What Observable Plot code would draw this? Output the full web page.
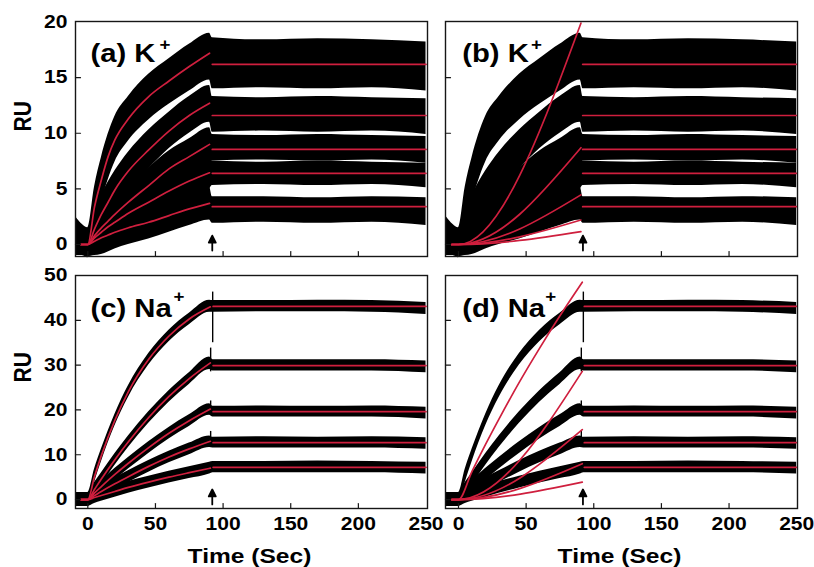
<!DOCTYPE html>
<html><head><meta charset="utf-8">
<script src="https://cdn.jsdelivr.net/npm/d3@7"></script>
<script src="https://cdn.jsdelivr.net/npm/@observablehq/plot@0.6"></script>
<style>
body{margin:0;background:#fff;}
#chart{position:relative;width:814px;height:567px;overflow:hidden;background:#fff;}
#chart svg{position:absolute;overflow:visible;}
</style></head><body><div id="chart"></div>
<script>
// ---------- data ----------
// K+ sensorgrams (panels a and b share the same traces): noise envelopes
const kTimes = [-9, -4, 0, 5, 10, 20, 30, 45, 60, 75, 90, 92, 130, 170, 210, 250];
const kLo = [
  [-1.0,-1.0,-1.2, 1.5, 3.8, 7.4, 9.3,11.2,12.6,13.8,14.8,14.0,14.1,14.0,14.1,13.8],
  [-1.0,-1.0,-1.0, 0.0, 1.0, 3.2, 4.9, 6.8, 8.6,10.0,11.0,10.1,10.2,10.1,10.2, 9.9],
  [-1.0,-1.0,-1.0,-0.7, 0.0, 1.2, 2.3, 3.8, 5.2, 6.3, 7.4, 7.5, 7.6, 7.5, 7.6, 7.3],
  [-1.0,-1.0,-1.0,-0.9,-0.4, 0.5, 1.3, 2.3, 3.3, 4.2, 5.0, 5.3, 5.4, 5.3, 5.4, 5.1],
  [-1.0,-1.0,-1.1,-1.0,-0.9,-0.4, 0.0, 0.5, 1.1, 1.7, 2.2, 1.9, 2.0, 1.9, 2.0, 1.7]];
const kHi = [
  [2.5, 1.8, 1.5, 5.2, 7.8,11.5,13.3,15.3,16.7,18.0,19.0,18.6,18.4,18.5,18.4,18.2],
  [1.5, 1.3, 1.2, 3.0, 4.4, 6.6, 8.3,10.3,11.9,13.3,14.3,13.3,13.2,13.3,13.2,13.1],
  [1.2, 1.2, 1.0, 2.4, 3.0, 4.3, 5.4, 6.9, 8.4, 9.5,10.5, 9.9, 9.8, 9.9, 9.8, 9.7],
  [1.2, 1.2, 1.0, 2.1, 2.6, 3.5, 4.3, 5.3, 6.3, 7.2, 8.0, 7.5, 7.4, 7.5, 7.4, 7.3],
  [1.2, 1.2, 1.0, 1.8, 2.1, 2.6, 3.0, 3.5, 4.1, 4.7, 5.2, 4.3, 4.3, 4.2, 4.3, 4.2]];

// Na+ sensorgrams (panels c and d share the same traces)
const naTimes = [-9, -4, 0, 5, 10, 20, 30, 45, 60, 75, 90, 92.5, 130, 170, 210, 250];
const naLo = [
  [-1.5,-1.5,-1.5, 3.8, 8.4,16.4,22.8,30.0,35.2,39.0,41.8,41.8,41.9,41.9,41.8,41.3],
  [-1.5,-1.5,-1.5, 1.0, 3.3, 7.6,11.6,17.0,21.7,25.7,29.0,28.7,28.7,28.7,28.7,28.3],
  [-1.5,-1.5,-1.5, 0.2, 1.6, 4.3, 6.8,10.3,13.5,16.3,18.8,18.4,18.4,18.4,18.4,18.0],
  [-1.5,-1.5,-1.5,-0.4, 0.5, 2.2, 3.8, 6.1, 8.2,10.0,11.6,11.5,11.5,11.5,11.5,11.2],
  [-1.5,-1.5,-1.5,-0.9,-0.4, 0.5, 1.4, 2.6, 3.7, 4.7, 5.7, 6.0, 6.0, 6.0, 6.0, 5.7]];
const naHi = [
  [1.5,1.5,1.5, 6.8,11.2,19.0,25.4,32.6,37.8,41.6,44.5,44.4,44.4,44.5,44.4,44.0],
  [1.5,1.5,1.5, 3.8, 5.9,10.2,14.2,19.6,24.3,28.3,31.8,31.2,31.2,31.2,31.2,30.9],
  [1.5,1.5,1.5, 2.8, 4.2, 6.9, 9.4,12.9,16.1,18.9,21.4,20.8,20.9,20.8,20.9,20.6],
  [1.5,1.5,1.5, 2.2, 3.1, 4.8, 6.4, 8.7,10.8,12.6,14.2,13.9,14.0,13.9,14.0,13.8],
  [1.5,1.5,1.5, 1.8, 2.2, 3.1, 4.0, 5.2, 6.3, 7.3, 8.3, 8.5, 8.5, 8.6, 8.5, 8.3]];
// injection-end spikes of the Na+ traces
const spikeT  = [92.3, 90.8, 90.8, 90.8];
const spikeLo = [35.0, 28.5, 18.8, 11.8];
const spikeHi = [46.3, 33.8, 22.0, 15.2];

// fitted association curves (red)
const fitTimesA = [-5, 0, 5, 10, 15, 20, 30, 45, 60, 75, 90];
const fitA = [
  [0, 0, 3.4, 5.8, 7.9, 9.4, 11.3, 13.3, 14.7, 16.0, 17.2],
  [0, 0, 1.4, 2.7, 3.8, 4.9, 6.6, 8.5, 10.2, 11.6, 12.7],
  [0, 0, 0.8, 1.5, 2.1, 2.7, 3.8, 5.3, 6.8, 7.9, 9.0],
  [0, 0, 0.6, 1.1, 1.6, 2.0, 2.8, 3.8, 4.8, 5.7, 6.45],
  [0, 0, 0.3, 0.6, 0.85, 1.1, 1.5, 2.0, 2.6, 3.2, 3.7]];
const fitTimesB = [-5, 0, 90.5];
const fitB = [[0, 0, 19.9], [0, 0, 8.7], [0, 0, 4.46], [0, 0, 2.2], [0, 0, 1.16]];
const fitTimesC = [-5, 0, 5, 10, 20, 30, 45, 60, 75, 90.6];
const fitC = [
  [0, 0, 5.2, 9.8, 17.7, 24.1, 31.3, 36.5, 40.3, 43.0],
  [0, 0, 2.3, 4.6, 8.9, 12.9, 18.3, 23.0, 27.0, 30.5],
  [0, 0, 1.5, 2.9, 5.6, 8.1, 11.6, 14.8, 17.6, 20.2],
  [0, 0, 0.9, 1.8, 3.5, 5.1, 7.4, 9.5, 11.3, 13.0],
  [0, 0, 0.45, 0.9, 1.8, 2.7, 3.9, 5.0, 6.0, 7.0]];
const fitTimesD1 = [-5, 0, 10, 20, 30, 45, 60, 75, 91.5];
const fitD1 = [0, 0, 6.3, 12.3, 18.0, 26.2, 33.8, 41.0, 48.5];
const fitTimesDLin = [-5, 0, 91.5];
const fitDLin = [[0, 0, 28.6], [0, 0, 15.6], [0, 0, 8.0], [0, 0, 3.9]];

// fitted dissociation levels (red)
const dissK = [16.2, 11.6, 8.55, 6.4, 3.4];
const dissNa = [43.1, 29.9, 19.6, 12.7, 7.2];
const dissTimesA = [92, 250], dissTimesB = [91.8, 250], dissTimesC = [92.6, 250], dissTimesD = [93, 250];

// injection-end arrow
const arrowT = 92;
const arrowBaseK = -0.55, arrowBaseNa = -1.1;

// ticks
const xTickMarks = [0, 50, 100, 150, 200];
const xTickLabels = [0, 50, 100, 150, 200, 250];
const yTicksK = [0, 5, 10, 15, 20];
const yTicksNa = [0, 10, 20, 30, 40, 50];
const panelLabels = ["(a) K", "(b) K", "(c) Na", "(d) Na"];

// ---------- helpers ----------
const RED = "#cf1f3e";
const INK = "#161616";
const FONT = "'Liberation Sans', Arial, Helvetica, sans-serif";
const STRETCH = 1.17;
const tickShape = {draw(c, l) { c.moveTo(0, 0); c.lineTo(0, -l); }};
const arrowShape = {draw(c, l) {
  c.moveTo(0, 0); c.lineTo(0, -l + 6);
  c.moveTo(-3.5, -l + 7); c.lineTo(0, -l); c.lineTo(3.5, -l + 7); c.closePath();
}};

function bandRows(times, lo, hi) {
  const rows = [];
  lo.forEach((arr, k) => arr.forEach((v, i) => rows.push({trace: k, t: times[i], lo: v, hi: hi[k][i]})));
  return rows;
}
function curveRows(list) { // list of [times, values]
  const rows = [];
  list.forEach(([times, vals], k) => vals.forEach((v, i) => rows.push({id: k, t: times[i], y: v})));
  return rows;
}
function levelRows(times, levels) {
  const rows = [];
  levels.forEach((v, k) => times.forEach(t => rows.push({id: k, t, y: v})));
  return rows;
}

function panel(o) {
  const marks = [
    Plot.areaY(o.bands, {x: "t", y1: "lo", y2: "hi", z: "trace", fill: "#000", curve: "monotone-x"})
  ];
  if (o.spikes) marks.push(Plot.ruleX(o.spikes, {x: "t", y1: "lo", y2: "hi", stroke: "#000", strokeWidth: 1.4}));
  marks.push(
    Plot.line(o.fits, {x: "t", y: "y", z: "id", stroke: RED, strokeWidth: 1.7, curve: "monotone-x"}),
    Plot.line(o.diss, {x: "t", y: "y", z: "id", stroke: RED, strokeWidth: 1.7}),
    Plot.frame({stroke: INK, strokeWidth: 1.4}),
    Plot.vector(xTickMarks, {x: d => d, frameAnchor: "bottom", length: 5, rotate: 0, anchor: "start", shape: tickShape, stroke: INK, strokeWidth: 1.2}),
    Plot.vector(o.yTicks.slice(0, -1), {y: d => d, frameAnchor: "left", length: 5, rotate: 90, anchor: "start", shape: tickShape, stroke: INK, strokeWidth: 1.2}),
    Plot.vector([arrowT], {x: d => d, y: () => o.arrowBase, length: 15, rotate: 0, anchor: "start", shape: arrowShape, stroke: "#000", fill: "#000", strokeWidth: 1.8}),
    Plot.text([o.label], {frameAnchor: "top-left", dx: o.labelDx, dy: o.labelDy, textAnchor: "start", lineAnchor: "bottom", fontSize: 25, fontWeight: "bold"}),
    Plot.text(["+"], {frameAnchor: "top-left", dx: o.plusDx, dy: o.plusDy, textAnchor: "start", lineAnchor: "bottom", fontSize: 16, fontWeight: "bold"})
  );
  if (o.yLabels) marks.push(
    Plot.axisY(o.yTicks, {tickSize: 0, tickPadding: 8, fontSize: 18, fontWeight: "bold", label: null}),
    Plot.text(["RU"], {frameAnchor: "left", dx: -52.5, dy: o.ruDy, rotate: -90, fontSize: 21, fontWeight: "bold", lineAnchor: "middle"})
  );
  if (o.xLabels) marks.push(
    Plot.axisX(xTickLabels, {tickSize: 0, tickPadding: 9, fontSize: 18, fontWeight: "bold", label: null}),
    Plot.text(["Time (Sec)"], {frameAnchor: "bottom", dx: -2, dy: 48, fontSize: 21, fontWeight: "bold", lineAnchor: "middle"})
  );
  const svg = Plot.plot({
    width: o.width, height: o.height,
    marginLeft: o.ml, marginRight: o.mr, marginTop: o.mt, marginBottom: o.mb,
    x: o.xLabels ? {domain: o.xDomain, label: null} : {domain: o.xDomain, axis: null},
    y: o.yLabels ? {domain: o.yDomain, label: null} : {domain: o.yDomain, axis: null},
    style: {fontFamily: FONT, fontSize: "18px", fontWeight: "bold", color: "#000", background: "transparent", overflow: "visible"},
    marks
  });
  // the reference's lettering is slightly wide: stretch every text horizontally about its anchor
  svg.querySelectorAll("text").forEach(t => {
    let tr = t.getAttribute("transform") || "";
    const x = +t.getAttribute("x") || 0, y = +t.getAttribute("y") || 0;
    if (x || y) { t.removeAttribute("x"); t.removeAttribute("y"); tr = tr + ` translate(${x},${y})`; }
    if (tr.includes("rotate")) tr = tr.replace("rotate", `scale(${STRETCH},1) rotate`);
    else tr = tr + ` scale(${STRETCH},1)`;
    t.setAttribute("transform", tr.trim());
  });
  svg.style.left = o.left + "px";
  svg.style.top = o.top + "px";
  document.getElementById("chart").appendChild(svg);
}

const kBands = bandRows(kTimes, kLo, kHi);
const naBands = bandRows(naTimes, naLo, naHi);
const naSpikes = spikeT.map((t, i) => ({t, lo: spikeLo[i], hi: spikeHi[i]}));

panel({left: 0, top: 0, width: 440, height: 262, ml: 75, mr: 13, mt: 21, mb: 6,
  xDomain: [-9.1, 251.1], yDomain: [-1.08, 20.05], yTicks: yTicksK, yLabels: true, xLabels: false,
  bands: kBands, fits: curveRows(fitA.map(v => [fitTimesA, v])), diss: levelRows(dissTimesA, dissK),
  arrowBase: arrowBaseK, label: panelLabels[0], labelDx: 15, labelDy: 40.5, plusDx: 84, plusDy: 28, ruDy: -7.5});
panel({left: 430, top: 0, width: 384, height: 262, ml: 15, mr: 17, mt: 21, mb: 6,
  xDomain: [-9.6, 250.6], yDomain: [-1.08, 20.05], yTicks: yTicksK, yLabels: false, xLabels: false,
  bands: kBands, fits: curveRows(fitB.map(v => [fitTimesB, v])), diss: levelRows(dissTimesB, dissK),
  arrowBase: arrowBaseK, label: panelLabels[1], labelDx: 16.7, labelDy: 40.5, plusDx: 85.5, plusDy: 28});
panel({left: 0, top: 262, width: 440, height: 305, ml: 75, mr: 13, mt: 13, mb: 59,
  xDomain: [-9.1, 251.1], yDomain: [-2, 50], yTicks: yTicksNa, yLabels: true, xLabels: true,
  bands: naBands, spikes: naSpikes, fits: curveRows(fitC.map(v => [fitTimesC, v])), diss: levelRows(dissTimesC, dissNa),
  arrowBase: arrowBaseNa, label: panelLabels[2], labelDx: 15, labelDy: 41, plusDx: 98, plusDy: 26, ruDy: -9.5});
panel({left: 430, top: 262, width: 384, height: 305, ml: 15, mr: 17, mt: 13, mb: 59,
  xDomain: [-9.6, 250.6], yDomain: [-2, 50], yTicks: yTicksNa, yLabels: false, xLabels: true,
  bands: naBands, spikes: naSpikes,
  fits: curveRows([[fitTimesD1, fitD1], ...fitDLin.map(v => [fitTimesDLin, v])]), diss: levelRows(dissTimesD, dissNa),
  arrowBase: arrowBaseNa, label: panelLabels[3], labelDx: 16.7, labelDy: 41, plusDx: 99.7, plusDy: 26});
</script></body></html>
